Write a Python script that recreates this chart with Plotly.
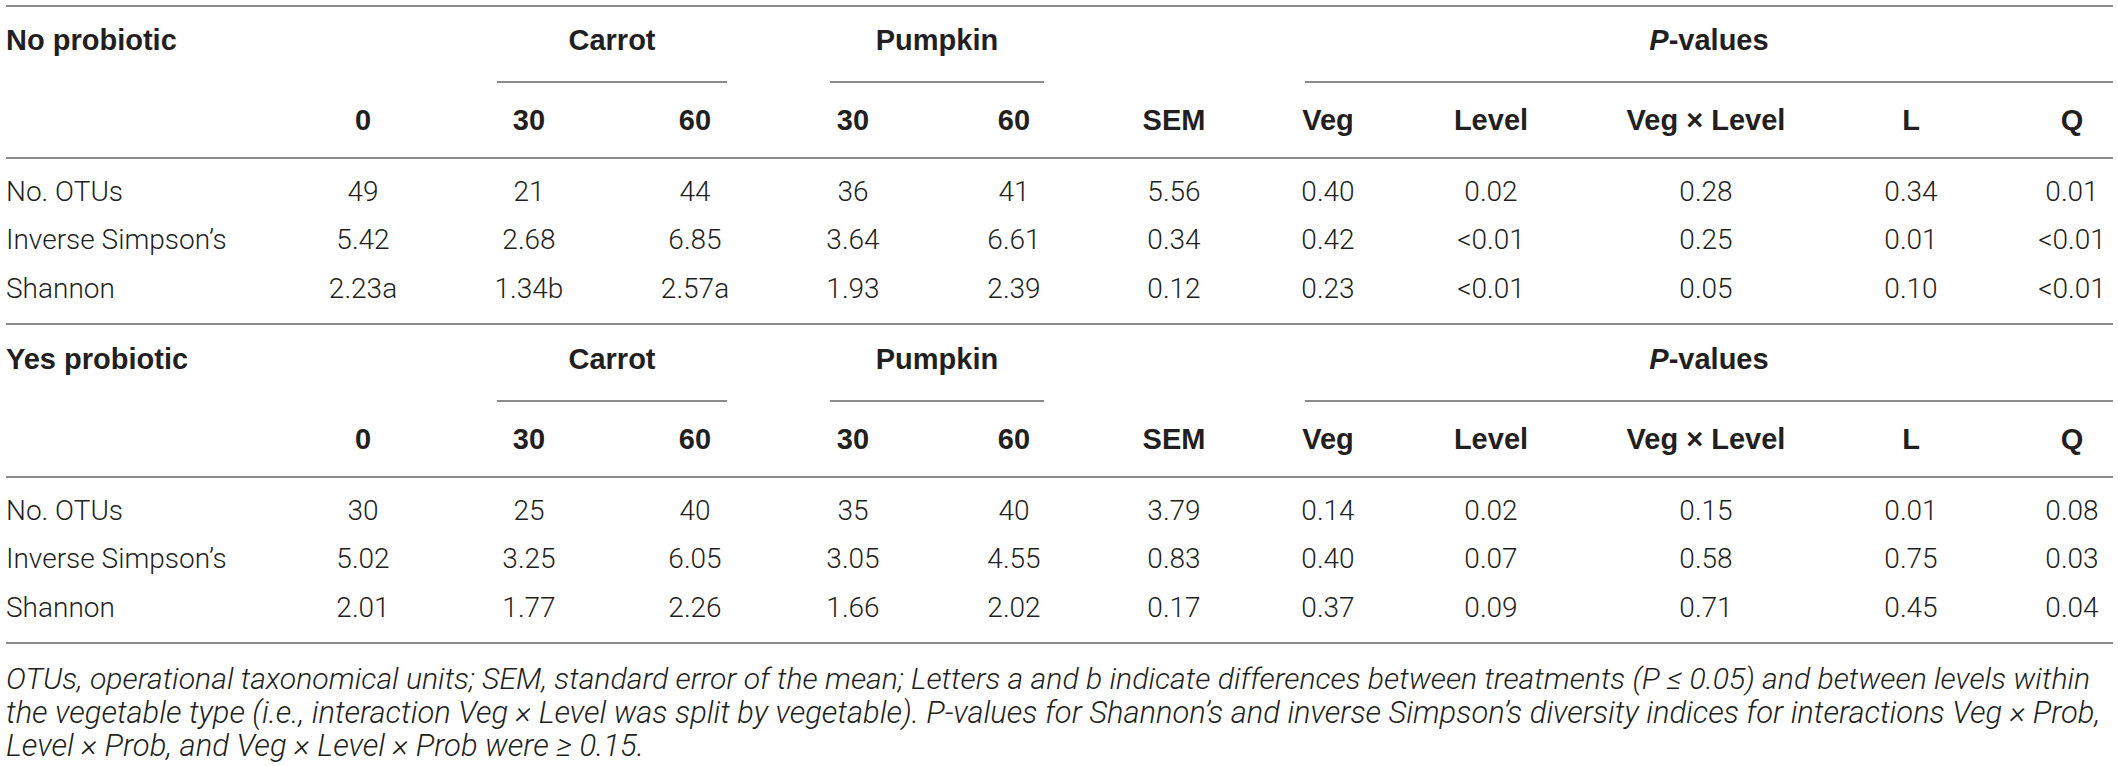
import plotly.graph_objects as go

# ---- table content ----
row_labels = ["No. OTUs", "Inverse Simpson’s", "Shannon"]
section_titles = ["No probiotic", "Yes probiotic"]
group_labels = ["Carrot", "Pumpkin", "<i>P</i>-values"]
col_headers = ["0", "30", "60", "30", "60", "SEM", "Veg", "Level", "Veg × Level", "L", "Q"]

no_prob_otus = ["49", "21", "44", "36", "41", "5.56", "0.40", "0.02", "0.28", "0.34", "0.01"]
no_prob_invsimpson = ["5.42", "2.68", "6.85", "3.64", "6.61", "0.34", "0.42", "<0.01", "0.25", "0.01", "<0.01"]
no_prob_shannon = ["2.23a", "1.34b", "2.57a", "1.93", "2.39", "0.12", "0.23", "<0.01", "0.05", "0.10", "<0.01"]

yes_prob_otus = ["30", "25", "40", "35", "40", "3.79", "0.14", "0.02", "0.15", "0.01", "0.08"]
yes_prob_invsimpson = ["5.02", "3.25", "6.05", "3.05", "4.55", "0.83", "0.40", "0.07", "0.58", "0.75", "0.03"]
yes_prob_shannon = ["2.01", "1.77", "2.26", "1.66", "2.02", "0.17", "0.37", "0.09", "0.71", "0.45", "0.04"]

footnote_lines = [
    "OTUs, operational taxonomical units; SEM, standard error of the mean; Letters a and b indicate differences between treatments (P ≤ 0.05) and between levels within",
    "the vegetable type (i.e., interaction Veg × Level was split by vegetable). P-values for Shannon’s and inverse Simpson’s diversity indices for interactions Veg × Prob,",
    "Level × Prob, and Veg × Level × Prob were ≥ 0.15.",
]

sections = [
    [no_prob_otus, no_prob_invsimpson, no_prob_shannon],
    [yes_prob_otus, yes_prob_invsimpson, yes_prob_shannon],
]

# ---- layout (pixel grid) ----
W, H = 2118, 766
LEFT, RIGHT = 6, 2113
LABEL_X = 6
COL_X = [363, 529, 695, 853, 1014, 1174, 1328, 1491, 1706, 1911, 2072]
GROUP_SPANS = [(497, 727), (830, 1044), (1305, 2113)]
SECTION_DY = 319
TOP_LINE, HEAD1_Y, UNDER_Y, HEAD2_Y, HEAD_LINE = 6, 43, 82, 123, 158
ROW_Y = [194, 242, 291]
FOOT_Y = [681, 715, 748]

TEXT = "#231f20"
LINE = "#8c8c8c"
BODY_FONT = "Roboto, Liberation Sans, sans-serif"
HEAD_FONT = "Liberation Sans, Arial, sans-serif"
SIZE = 28
HEAD_SIZE = 29
FOOT_SIZES = [30.2, 30.9, 31]  # lines are justified to the table width in the source

fig = go.Figure()
shapes = []


def hline(x0, x1, y):
    shapes.append(dict(type="line", xref="x", yref="y", x0=x0, x1=x1, y0=y, y1=y,
                       line=dict(color=LINE, width=2)))


def text_trace(xs, ys, labels, pos, font, size, weight="normal"):
    fig.add_trace(go.Scatter(
        x=xs, y=ys, mode="text", text=labels, textposition=pos,
        textfont=dict(family=font, size=size, color=TEXT, weight=weight),
        hoverinfo="skip", showlegend=False))


hline(LEFT, RIGHT, TOP_LINE)
for s, rows in enumerate(sections):
    off = s * SECTION_DY
    # section title
    text_trace([LABEL_X], [HEAD1_Y + off], [section_titles[s]], "middle right",
               HEAD_FONT, HEAD_SIZE, "bold")
    # group headers with underlines
    text_trace([(a + b) / 2 for a, b in GROUP_SPANS], [HEAD1_Y + off] * len(GROUP_SPANS),
               group_labels, "middle center", HEAD_FONT, HEAD_SIZE, "bold")
    for a, b in GROUP_SPANS:
        hline(a, b, UNDER_Y + off)
    # column headers
    text_trace(COL_X, [HEAD2_Y + off] * len(COL_X), col_headers, "middle center",
               HEAD_FONT, HEAD_SIZE, "bold")
    hline(LEFT, RIGHT, HEAD_LINE + off)
    # data rows
    for r, vals in enumerate(rows):
        y = ROW_Y[r] + off
        text_trace([LABEL_X], [y], [row_labels[r]], "middle right", BODY_FONT, SIZE, 300)
        text_trace(COL_X, [y] * len(vals), vals, "middle center", BODY_FONT, SIZE, 300)
    hline(LEFT, RIGHT, TOP_LINE + SECTION_DY * (s + 1) - 1)

# footnote
for line, y, fs in zip(footnote_lines, FOOT_Y, FOOT_SIZES):
    text_trace([LABEL_X], [y], [f"<i>{line}</i>"], "middle right", BODY_FONT, fs, 300)

fig.update_layout(
    width=W, height=H, margin=dict(l=0, r=0, t=0, b=0),
    paper_bgcolor="white", plot_bgcolor="white",
    xaxis=dict(range=[0, W], visible=False, fixedrange=True),
    yaxis=dict(range=[H, 0], visible=False, fixedrange=True),
    shapes=shapes,
)

fig.write_html("out.html", post_script="document.body.style.margin='0';",
               config={"displayModeBar": False})
